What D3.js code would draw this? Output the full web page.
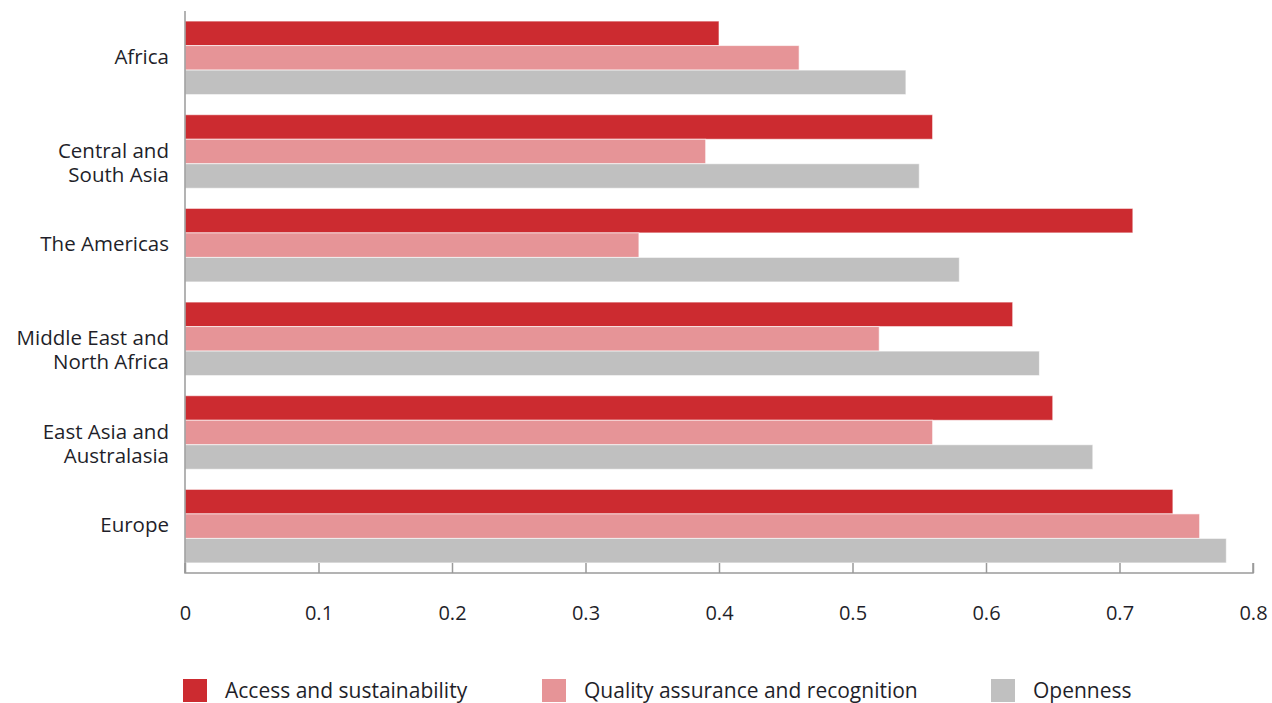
<!DOCTYPE html>
<html>
<head>
<meta charset="utf-8">
<script src="https://cdn.jsdelivr.net/npm/d3@7"></script>
<style>
  body { margin: 0; background: #fff; }
  text { font-family: "Open Sans", "Noto Sans", sans-serif; fill: #1f1f2a; }
</style>
</head>
<body>
<div id="chart"></div>
<script>
// regions, top to bottom
let regions = [
  ["Africa"],
  ["Central and", "South Asia"],
  ["The Americas"],
  ["Middle East and", "North Africa"],
  ["East Asia and", "Australasia"],
  ["Europe"]
];
let seriesNames = ["Access and sustainability", "Quality assurance and recognition", "Openness"];
let access   = [0.40, 0.56, 0.71, 0.62, 0.65, 0.74];
let quality  = [0.46, 0.39, 0.34, 0.52, 0.56, 0.76];
let openness = [0.54, 0.55, 0.58, 0.64, 0.68, 0.78];
let xTicks = [0, 0.1, 0.2, 0.3, 0.4, 0.5, 0.6, 0.7, 0.8];
let colors = ["#cc2b30", "#e69497", "#c0c0c0"];

var width = 1272, height = 703;
var plotLeft = 185, plotRight = 1253, plotTop = 11, plotBottom = 573;

var svg = d3.select("#chart").append("svg")
    .attr("width", width)
    .attr("height", height);

var keys = regions.map(function(d){ return d.join(" "); });
var series = [access, quality, openness];

var x = d3.scaleLinear().domain([0, 0.8]).range([plotLeft, plotRight]);
var y = d3.scaleBand().domain(keys).range([plotTop, plotBottom])
    .paddingInner(0.215).paddingOuter(0.1075);
var ySub = d3.scaleBand().domain([0, 1, 2]).range([0, y.bandwidth()]);

// bars
var groups = svg.selectAll(".group")
    .data(keys)
    .enter().append("g")
    .attr("class", "group")
    .attr("transform", function(d){ return "translate(0," + y(d) + ")"; });

groups.selectAll("rect")
    .data(function(d, i){ return series.map(function(s, j){ return {k: j, v: s[i]}; }); })
    .enter().append("rect")
    .attr("x", x(0))
    .attr("y", function(d){ return ySub(d.k); })
    .attr("width", function(d){ return x(d.v) - x(0); })
    .attr("height", ySub.bandwidth())
    .attr("fill", function(d){ return colors[d.k]; })
    .attr("stroke", "#fff")
    .attr("stroke-opacity", 0.6)
    .attr("stroke-width", 1);

// x axis, ticks pointing up
var xAxis = svg.append("g")
    .attr("transform", "translate(0," + plotBottom + ")")
    .call(d3.axisBottom(x).tickValues(xTicks).tickSize(-10).tickPadding(33)
        .tickFormat(function(d){ return d === 0 ? "0" : d3.format(".1f")(d); }));
xAxis.select(".domain").attr("stroke", "#9a9a9a").attr("stroke-width", 1.5)
    .attr("d", "M" + plotLeft + ",-10V0H" + plotRight + "V-10");
xAxis.selectAll(".tick line").attr("stroke", "#9a9a9a").attr("stroke-width", 1.5);
xAxis.selectAll(".tick text").attr("font-size", 20).attr("fill", "#1f1f2a")
    .attr("font-family", "Open Sans, Noto Sans, sans-serif");

// y axis line
svg.append("line")
    .attr("x1", plotLeft).attr("x2", plotLeft)
    .attr("y1", plotTop).attr("y2", plotBottom)
    .attr("stroke", "#9a9a9a").attr("stroke-width", 1.5);

// category labels (one text per line)
regions.forEach(function(lines, i){
    lines.forEach(function(line, j){
        svg.append("text")
            .attr("class", "cat")
            .attr("text-anchor", "end")
            .attr("font-size", 20.5)
            .attr("x", 169)
            .attr("y", y(keys[i]) + y.bandwidth() / 2 + 6 + j * 24)
            .text(line);
    });
});

// legend
var legendX = [183, 542, 991];
var legend = svg.selectAll(".legend")
    .data(seriesNames)
    .enter().append("g")
    .attr("class", "legend")
    .attr("transform", function(d, i){ return "translate(" + legendX[i] + ",679)"; });
legend.append("rect")
    .attr("width", 24).attr("height", 23)
    .attr("fill", function(d, i){ return colors[i]; });
legend.append("text")
    .attr("x", 42).attr("y", 19)
    .attr("font-size", 21)
    .text(function(d){ return d; });
</script>
</body>
</html>
